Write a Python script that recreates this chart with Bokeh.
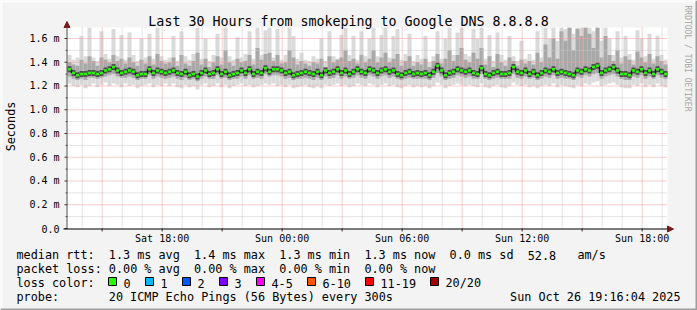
import math
import re
from bokeh.plotting import figure
from bokeh.models import Range1d, Label, BoxAnnotation, Arrow, NormalHead
from bokeh.core.properties import value
from bokeh.embed import file_html
from bokeh.resources import INLINE

# ---------------- data ----------------
title_text = "Last 30 Hours from smokeping to Google DNS 8.8.8.8"
y_title = "Seconds"
t_start = 13 + 16 / 60 + 4 / 3600      # Sat 13:16:04 (hours since Sat 00:00)
t_span = 30.0
step_h = 0.2                            # 12 minute steps
y_top = 1.6926                          # top of the value axis (ms)

x_ticks = [15, 18, 21, 24, 27, 30, 33, 36, 39, 42]
x_label_ticks = [18, 24, 30, 36, 42]
x_tick_labels = ["Sat 18:00", "Sun 00:00", "Sun 06:00", "Sun 12:00", "Sun 18:00"]
x_minor = [14, 16, 17, 19, 20, 22, 23, 25, 26, 28, 29, 31, 32, 34, 35, 37, 38, 40, 41, 43]
y_ticks = [0.0, 0.2, 0.4, 0.6, 0.8, 1.0, 1.2, 1.4, 1.6]
y_tick_labels = ["0.0", "0.2 m", "0.4 m", "0.6 m", "0.8 m", "1.0 m", "1.2 m", "1.4 m", "1.6 m"]
y_minor = [0.1, 0.3, 0.5, 0.7, 0.9, 1.1, 1.3, 1.5]

median = [
    1.34, 1.31, 1.29, 1.30, 1.30, 1.31, 1.31, 1.30, 1.31, 1.33, 1.34, 1.36, 1.33, 1.31, 1.32, 1.33, 1.32, 1.29, 1.30, 1.30, 1.34, 1.31, 1.33, 1.32, 1.31,
    1.32, 1.33, 1.31, 1.30, 1.32, 1.29, 1.30, 1.28, 1.31, 1.33, 1.30, 1.31, 1.34, 1.30, 1.32, 1.29, 1.30, 1.31, 1.33, 1.31, 1.34, 1.30, 1.32, 1.31, 1.35,
    1.32, 1.34, 1.34, 1.33, 1.31, 1.32, 1.29, 1.30, 1.31, 1.32, 1.31, 1.30, 1.32, 1.29, 1.33, 1.31, 1.32, 1.34, 1.31, 1.33, 1.30, 1.32, 1.34, 1.32, 1.31,
    1.34, 1.33, 1.31, 1.33, 1.34, 1.32, 1.33, 1.30, 1.29, 1.31, 1.32, 1.30, 1.31, 1.30, 1.31, 1.29, 1.32, 1.37, 1.33, 1.29, 1.31, 1.32, 1.34, 1.33, 1.32,
    1.33, 1.31, 1.30, 1.35, 1.30, 1.29, 1.31, 1.32, 1.30, 1.30, 1.31, 1.36, 1.32, 1.31, 1.33, 1.30, 1.32, 1.29, 1.31, 1.33, 1.32, 1.34, 1.31, 1.32, 1.31,
    1.30, 1.29, 1.33, 1.32, 1.34, 1.33, 1.36, 1.37, 1.31, 1.33, 1.34, 1.36, 1.33, 1.30, 1.30, 1.29, 1.33, 1.32, 1.34, 1.31, 1.33, 1.30, 1.34, 1.32, 1.30,
]
smoke_max = [
    1.46, 1.42, 1.44, 1.62, 1.45, 1.69, 1.44, 1.41, 1.66, 1.47, 1.43, 1.68, 1.45, 1.63, 1.42, 1.65, 1.46, 1.41, 1.60, 1.44, 1.64, 1.43, 1.69, 1.45, 1.42,
    1.44, 1.62, 1.41, 1.66, 1.45, 1.42, 1.47, 1.69, 1.43, 1.60, 1.41, 1.46, 1.64, 1.44, 1.69, 1.45, 1.42, 1.61, 1.44, 1.47, 1.66, 1.43, 1.69, 1.46, 1.67,
    1.69, 1.44, 1.68, 1.42, 1.46, 1.69, 1.62, 1.43, 1.48, 1.42, 1.41, 1.45, 1.43, 1.60, 1.41, 1.66, 1.45, 1.43, 1.63, 1.69, 1.46, 1.62, 1.42, 1.66, 1.45,
    1.60, 1.69, 1.45, 1.63, 1.69, 1.44, 1.62, 1.68, 1.42, 1.47, 1.64, 1.41, 1.46, 1.43, 1.62, 1.40, 1.45, 1.66, 1.43, 1.60, 1.69, 1.46, 1.65, 1.69, 1.47,
    1.45, 1.68, 1.60, 1.69, 1.43, 1.63, 1.41, 1.65, 1.46, 1.42, 1.62, 1.45, 1.41, 1.58, 1.43, 1.47, 1.42, 1.66, 1.44, 1.69, 1.60, 1.69, 1.58, 1.69, 1.68,
    1.69, 1.64, 1.69, 1.69, 1.69, 1.69, 1.66, 1.69, 1.58, 1.69, 1.60, 1.46, 1.66, 1.44, 1.62, 1.47, 1.42, 1.67, 1.60, 1.45, 1.64, 1.43, 1.62, 1.46, 1.42,
]
smoke_upper = [
    1.40, 1.38, 1.37, 1.42, 1.39, 1.45, 1.41, 1.37, 1.44, 1.42, 1.40, 1.46, 1.41, 1.43, 1.39, 1.44, 1.40, 1.37, 1.42, 1.39, 1.45, 1.38, 1.47, 1.41, 1.39,
    1.40, 1.44, 1.37, 1.46, 1.39, 1.37, 1.41, 1.48, 1.38, 1.43, 1.36, 1.40, 1.45, 1.38, 1.50, 1.40, 1.37, 1.43, 1.40, 1.41, 1.46, 1.38, 1.52, 1.42, 1.47,
    1.48, 1.41, 1.46, 1.39, 1.40, 1.50, 1.44, 1.38, 1.41, 1.39, 1.37, 1.40, 1.39, 1.43, 1.36, 1.45, 1.40, 1.42, 1.44, 1.50, 1.41, 1.43, 1.39, 1.46, 1.40,
    1.43, 1.50, 1.40, 1.44, 1.48, 1.40, 1.43, 1.47, 1.37, 1.41, 1.45, 1.37, 1.40, 1.38, 1.43, 1.36, 1.41, 1.47, 1.39, 1.43, 1.50, 1.41, 1.46, 1.52, 1.42,
    1.40, 1.48, 1.43, 1.52, 1.38, 1.45, 1.36, 1.47, 1.40, 1.37, 1.44, 1.41, 1.37, 1.42, 1.39, 1.41, 1.38, 1.48, 1.40, 1.55, 1.44, 1.60, 1.43, 1.66, 1.58,
    1.69, 1.50, 1.68, 1.62, 1.69, 1.64, 1.52, 1.69, 1.44, 1.62, 1.46, 1.41, 1.50, 1.39, 1.45, 1.42, 1.38, 1.49, 1.44, 1.40, 1.47, 1.39, 1.45, 1.41, 1.38,
]
smoke_lower = [
    1.28, 1.26, 1.25, 1.26, 1.25, 1.27, 1.27, 1.26, 1.27, 1.28, 1.29, 1.30, 1.28, 1.27, 1.27, 1.28, 1.27, 1.25, 1.26, 1.26, 1.29, 1.26, 1.28, 1.27, 1.26,
    1.27, 1.28, 1.26, 1.25, 1.27, 1.25, 1.26, 1.24, 1.26, 1.28, 1.26, 1.26, 1.29, 1.26, 1.27, 1.25, 1.26, 1.26, 1.28, 1.26, 1.29, 1.26, 1.27, 1.26, 1.30,
    1.28, 1.29, 1.29, 1.28, 1.26, 1.27, 1.25, 1.26, 1.26, 1.27, 1.26, 1.25, 1.27, 1.25, 1.28, 1.26, 1.27, 1.29, 1.26, 1.28, 1.26, 1.27, 1.29, 1.27, 1.26,
    1.29, 1.28, 1.26, 1.28, 1.29, 1.27, 1.28, 1.26, 1.25, 1.26, 1.27, 1.26, 1.26, 1.26, 1.26, 1.25, 1.27, 1.31, 1.28, 1.25, 1.26, 1.27, 1.29, 1.28, 1.27,
    1.28, 1.26, 1.26, 1.30, 1.26, 1.25, 1.26, 1.27, 1.26, 1.26, 1.26, 1.30, 1.27, 1.26, 1.28, 1.26, 1.27, 1.25, 1.26, 1.28, 1.27, 1.29, 1.26, 1.27, 1.26,
    1.26, 1.25, 1.28, 1.27, 1.29, 1.28, 1.30, 1.31, 1.26, 1.28, 1.29, 1.30, 1.28, 1.26, 1.25, 1.25, 1.28, 1.27, 1.29, 1.26, 1.28, 1.26, 1.29, 1.27, 1.26,
]
smoke_min = [
    1.22, 1.20, 1.19, 1.21, 1.18, 1.20, 1.22, 1.19, 1.21, 1.23, 1.20, 1.22, 1.21, 1.19, 1.22, 1.20, 1.21, 1.18, 1.20, 1.21, 1.22, 1.19, 1.21, 1.20, 1.22,
    1.20, 1.22, 1.19, 1.18, 1.21, 1.19, 1.20, 1.17, 1.21, 1.22, 1.19, 1.20, 1.22, 1.19, 1.21, 1.18, 1.20, 1.21, 1.22, 1.20, 1.21, 1.19, 1.20, 1.21, 1.22,
    1.21, 1.22, 1.20, 1.21, 1.19, 1.21, 1.18, 1.19, 1.20, 1.21, 1.19, 1.18, 1.20, 1.18, 1.21, 1.20, 1.21, 1.22, 1.20, 1.21, 1.19, 1.20, 1.22, 1.21, 1.20,
    1.22, 1.21, 1.19, 1.21, 1.22, 1.20, 1.21, 1.19, 1.18, 1.20, 1.21, 1.19, 1.20, 1.19, 1.20, 1.18, 1.20, 1.23, 1.21, 1.18, 1.20, 1.21, 1.22, 1.21, 1.20,
    1.21, 1.20, 1.19, 1.22, 1.19, 1.18, 1.20, 1.21, 1.19, 1.18, 1.20, 1.23, 1.21, 1.20, 1.21, 1.19, 1.20, 1.18, 1.20, 1.21, 1.20, 1.22, 1.19, 1.21, 1.20,
    1.19, 1.18, 1.21, 1.20, 1.22, 1.21, 1.23, 1.24, 1.20, 1.21, 1.22, 1.23, 1.21, 1.19, 1.18, 1.18, 1.21, 1.20, 1.22, 1.19, 1.21, 1.19, 1.22, 1.20, 1.19,
]

stats_lines = [
    "median rtt:  1.3 ms avg  1.4 ms max  1.3 ms min  1.3 ms now  0.0 ms sd  52.8   am/s",
    "packet loss: 0.00 % avg  0.00 % max  0.00 % min  0.00 % now",
]
loss_title = "loss color:"
loss_labels = ["0", "1", "2", "3", "4-5", "6-10", "11-19", "20/20"]
loss_colors = ["#26ff00", "#00b8ff", "#0059ff", "#7e00ff", "#ff00ff",
               "#ff5500", "#ff0000", "#a10000"]
probe_text = "probe:       20 ICMP Echo Pings (56 Bytes) every 300s"
date_text = "Sun Oct 26 19:16:04 2025"
credit_text = "RRDTOOL / TOBI OETIKER"

# ---------------- layout (pixels) ----------------
W, H = 697, 310
FL, FR, FT, FB = 67, 667, 27, 228       # plot area box in canvas px
PX_H = (FR - FL) / t_span               # px per hour
PX_MS = (FB - FT) / y_top               # px per ms
MONO = "DejaVu Sans Mono"
CW = 7.1                                # legend character advance (px)
BASE_FIX = 3.5                          # alphabetic baseline correction (px)

t_end = t_start + t_span
p = figure(width=W, height=H, output_backend="svg", toolbar_location=None,
           x_axis_location=None, y_axis_location=None,
           x_range=Range1d(t_start - FL / PX_H, t_end + (W - FR) / PX_H),
           y_range=Range1d(-(H - FB) / PX_MS, FB / PX_MS),
           min_border=0, min_border_left=0, min_border_right=0,
           min_border_top=0, min_border_bottom=0,
           background_fill_color="#f3f3f3", border_fill_color="#f3f3f3",
           outline_line_color=None)
p.grid.visible = False

# plot area
p.quad(left=[t_start], right=[t_end], bottom=[0], top=[y_top],
       fill_color="white", line_color=None)

n = len(median)
left = [t_start + step_h * i for i in range(n)]
right = [t_start + step_h * (i + 1) for i in range(n)]

# smoke
p.quad(left=left, right=right, bottom=smoke_min, top=smoke_max,
       fill_color="#dadada", line_color=None)
p.quad(left=left, right=right, bottom=smoke_lower, top=smoke_upper,
       fill_color="#a8a8a8", line_color=None)

# grid (drawn over the smoke, like rrdtool)
minor_x = [t for t in x_minor if t_start < t < t_end]
p.segment(x0=minor_x, x1=minor_x, y0=[0] * len(minor_x), y1=[y_top] * len(minor_x),
          line_color="#c8c8c8", line_width=1, line_dash="1 1")
p.segment(x0=[t_start] * len(y_minor), x1=[t_end] * len(y_minor), y0=y_minor, y1=y_minor,
          line_color="#c8c8c8", line_width=1, line_dash="1 1")
p.segment(x0=x_ticks, x1=x_ticks, y0=[0] * len(x_ticks), y1=[y_top] * len(x_ticks),
          line_color="#f39a9a", line_width=1, line_dash="1 1")
p.segment(x0=[t_start] * 8, x1=[t_end] * 8, y0=y_ticks[1:], y1=y_ticks[1:],
          line_color="#f39a9a", line_width=1, line_dash="1 1")

# median: dark core, connectors, loss-coloured marks
p.segment(x0=left, x1=right, y0=median, y1=median, line_color="#4e4e4e", line_width=6)
p.segment(x0=right[:-1], x1=right[:-1], y0=median[:-1], y1=median[1:],
          line_color="#1a1a1a", line_width=1.5)
gap = step_h * 0.15
p.segment(x0=[l + gap for l in left], x1=[r - gap for r in right],
          y0=median, y1=median, line_color=loss_colors[0], line_width=2.5)

# axis ticks
tick_w = 3 / PX_H
tick_h = 3 / PX_MS
p.segment(x0=[t_start - tick_w] * len(y_ticks), x1=[t_start] * len(y_ticks),
          y0=y_ticks, y1=y_ticks, line_color="#333333", line_width=1)
p.segment(x0=[t_start - 2 / PX_H] * len(y_minor), x1=[t_start] * len(y_minor),
          y0=y_minor, y1=y_minor, line_color="#555555", line_width=1)
p.segment(x0=x_ticks, x1=x_ticks, y0=[0] * len(x_ticks), y1=[-tick_h] * len(x_ticks),
          line_color="#333333", line_width=1)

# tick labels
p.text(x=[t_start] * len(y_ticks), y=y_ticks, text=y_tick_labels,
       x_offset=-8, text_align="right", text_baseline="middle",
       text_font=value(MONO), text_font_size="10px", text_color="#000000")
p.text(x=x_label_ticks, y=[0] * len(x_label_ticks), text=x_tick_labels,
       y_offset=13 - BASE_FIX, text_align="center", text_baseline="alphabetic",
       text_font=value(MONO), text_font_size="10px", text_color="#000000")

# axis lines with arrow heads
p.add_layout(Arrow(x_start=FL - 0.5, y_start=H - FB - 0.5, x_end=FL - 0.5, y_end=H - 21,
                   start_units="screen", end_units="screen",
                   line_color="#555555", line_width=1,
                   end=NormalHead(size=6, fill_color="#7a1a1a", line_color="#7a1a1a")))
p.add_layout(Arrow(x_start=FL - 4, y_start=H - FB - 0.5, x_end=673, y_end=H - FB - 0.5,
                   start_units="screen", end_units="screen",
                   line_color="#000000", line_width=1,
                   end=NormalHead(size=6, fill_color="#7a1a1a", line_color="#7a1a1a")))


def lab(x, y, text, size, color="#000000", align="left", baseline="alphabetic", angle=0.0):
    if baseline == "alphabetic":
        y -= BASE_FIX
    p.add_layout(Label(x=x, y=H - y, x_units="screen", y_units="screen",
                       text=text, text_font=MONO, text_font_size=f"{size}px",
                       text_color=color, text_align=align, text_baseline=baseline,
                       angle=angle))


def mono_line(x, y, line):
    # keep rrdtool's column layout: each run of text starts at its character column
    for m in re.finditer(r"\S+(?: \S+)*", line):
        lab(x + m.start() * CW, y, m.group(0), 11.8)


lab(348, 24, title_text, 13.3, align="center")
lab(10, 126, y_title, 11.8, align="center", baseline="middle", angle=math.pi / 2)
lab(687, 5, credit_text, 8, color="#a6a6a6", align="left", baseline="middle", angle=-math.pi / 2)

mono_line(16, 258, stats_lines[0])
mono_line(16, 272, stats_lines[1])
lab(16, 286, loss_title, 11.8)
bx = 108
for name, col in zip(loss_labels, loss_colors):
    p.add_layout(BoxAnnotation(left=bx, right=bx + 8, top=H - 277, bottom=H - 285,
                               left_units="screen", right_units="screen",
                               top_units="screen", bottom_units="screen",
                               fill_color=col, fill_alpha=1.0,
                               line_color="#000000", line_width=1, line_alpha=1.0))
    lab(bx + 15, 286, name, 11.8)
    bx += 30 + 7 * len(name)
mono_line(16, 300, probe_text)
lab(680, 300, date_text, 11.8, align="right")

# 3-D frame of the image
for l_, r_, b_, t_, c_ in [(0, W, H - 2, H, "#fcfcfc"), (0, 2, 0, H, "#fcfcfc"),
                           (W - 2, W, 0, H, "#9e9e9e"), (0, W, 0, 2, "#9e9e9e")]:
    p.add_layout(BoxAnnotation(left=l_, right=r_, bottom=b_, top=t_,
                               left_units="screen", right_units="screen",
                               top_units="screen", bottom_units="screen",
                               fill_color=c_, fill_alpha=1.0, line_color=None))

open("out.html", "w").write(file_html(p, INLINE))
